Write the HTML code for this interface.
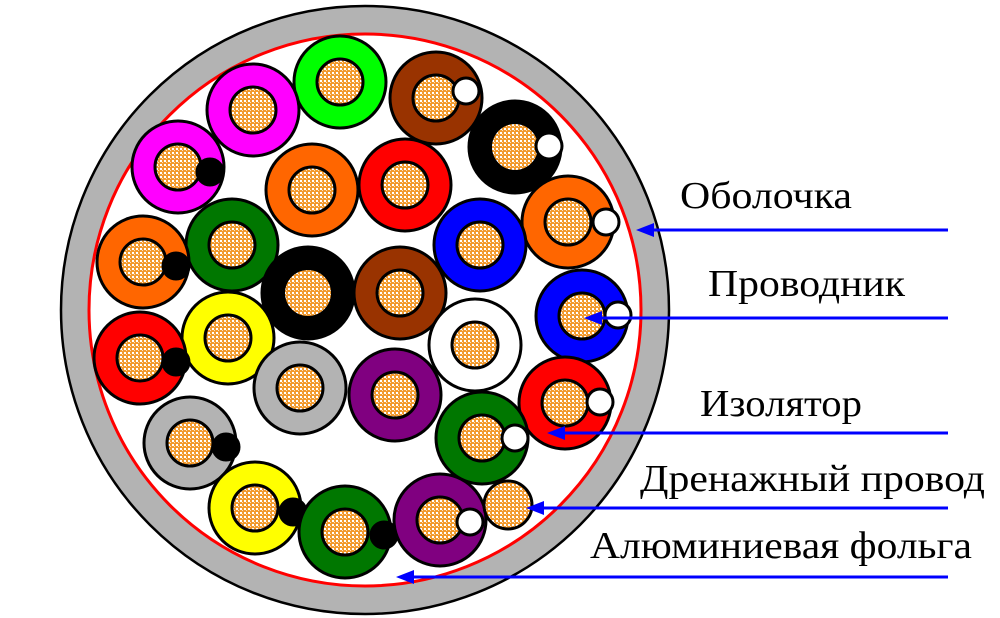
<!DOCTYPE html>
<html><head><meta charset="utf-8"><style>
html,body{margin:0;padding:0;background:#fff}
svg{display:block}
text{font-family:"Liberation Serif",serif;font-size:38px;fill:#000}
</style></head><body>
<svg width="1000" height="618" viewBox="0 0 1000 618" xmlns="http://www.w3.org/2000/svg">
<defs>
<pattern id="p" width="4" height="4" patternUnits="userSpaceOnUse">
<rect width="4" height="4" fill="#f29a2e"/>
<rect x="0" y="0" width="2" height="2" fill="#fff"/>
<rect x="2" y="2" width="1" height="1" fill="#fbe0c0"/>
</pattern>
</defs>
<circle cx="365" cy="310" r="304" fill="#b3b3b3" stroke="#000" stroke-width="2.5"/>
<circle cx="365" cy="310" r="276" fill="#fff" stroke="#f00" stroke-width="3"/>
<g stroke="#000" stroke-width="3">
<circle cx="340" cy="82" r="46" fill="#00ff00"/><circle cx="340" cy="82" r="23" fill="url(#p)"/>
<circle cx="253" cy="110" r="46" fill="#ff00ff"/><circle cx="253" cy="110" r="23" fill="url(#p)"/>
<circle cx="436" cy="98" r="46" fill="#993300"/><circle cx="436" cy="98" r="23" fill="url(#p)"/><circle cx="466" cy="91" r="13" fill="#fff"/>
<circle cx="515" cy="147" r="46" fill="#000"/><circle cx="515" cy="147" r="23" fill="url(#p)" stroke="none"/><circle cx="549" cy="146" r="13" fill="#fff"/>
<circle cx="178" cy="167" r="46" fill="#ff00ff"/><circle cx="178" cy="167" r="23" fill="url(#p)"/><circle cx="210" cy="172" r="13" fill="#000"/>
<circle cx="312" cy="190" r="46" fill="#ff6600"/><circle cx="312" cy="190" r="23" fill="url(#p)"/>
<circle cx="405" cy="185" r="46" fill="#ff0000"/><circle cx="405" cy="185" r="23" fill="url(#p)"/>
<circle cx="568" cy="222" r="46" fill="#ff6600"/><circle cx="568" cy="222" r="23" fill="url(#p)"/><circle cx="606" cy="222" r="13" fill="#fff"/>
<circle cx="480" cy="245" r="46" fill="#0000ff"/><circle cx="480" cy="245" r="23" fill="url(#p)"/>
<circle cx="232" cy="245" r="46" fill="#007700"/><circle cx="232" cy="245" r="23" fill="url(#p)"/>
<circle cx="143" cy="262" r="46" fill="#ff6600"/><circle cx="143" cy="262" r="23" fill="url(#p)"/><circle cx="176" cy="266" r="13" fill="#000"/>
<circle cx="308" cy="293" r="46" fill="#000"/><circle cx="308" cy="293" r="23" fill="url(#p)" stroke="none"/>
<circle cx="400" cy="293" r="46" fill="#993300"/><circle cx="400" cy="293" r="23" fill="url(#p)"/>
<circle cx="582" cy="316" r="46" fill="#0000ff"/><circle cx="582" cy="316" r="23" fill="url(#p)"/><circle cx="618" cy="315" r="13" fill="#fff"/>
<circle cx="475" cy="345" r="46" fill="#fff"/><circle cx="475" cy="345" r="23" fill="url(#p)"/>
<circle cx="228" cy="338" r="46" fill="#ffff00"/><circle cx="228" cy="338" r="23" fill="url(#p)"/>
<circle cx="140" cy="358" r="46" fill="#ff0000"/><circle cx="140" cy="358" r="23" fill="url(#p)"/><circle cx="176" cy="362" r="13" fill="#000"/>
<circle cx="300" cy="388" r="46" fill="#b3b3b3"/><circle cx="300" cy="388" r="23" fill="url(#p)"/>
<circle cx="395" cy="395" r="46" fill="#800080"/><circle cx="395" cy="395" r="23" fill="url(#p)"/>
<circle cx="565" cy="403" r="46" fill="#ff0000"/><circle cx="565" cy="403" r="23" fill="url(#p)"/><circle cx="600" cy="402" r="13" fill="#fff"/>
<circle cx="482" cy="438" r="46" fill="#007700"/><circle cx="482" cy="438" r="23" fill="url(#p)"/><circle cx="515" cy="438" r="13" fill="#fff"/>
<circle cx="190" cy="443" r="46" fill="#b3b3b3"/><circle cx="190" cy="443" r="23" fill="url(#p)"/><circle cx="226" cy="447" r="13" fill="#000"/>
<circle cx="255" cy="508" r="46" fill="#ffff00"/><circle cx="255" cy="508" r="23" fill="url(#p)"/><circle cx="293" cy="512" r="13" fill="#000"/>
<circle cx="345" cy="532" r="46" fill="#007700"/><circle cx="345" cy="532" r="23" fill="url(#p)"/><circle cx="384" cy="535" r="13" fill="#000"/>
<circle cx="440" cy="520" r="46" fill="#800080"/><circle cx="440" cy="520" r="23" fill="url(#p)"/><circle cx="470" cy="522" r="13" fill="#fff"/>
<circle cx="508" cy="505" r="24" fill="url(#p)"/>
</g>
<g stroke="#0000ff" stroke-width="3" fill="#0000ff">
<line x1="948" y1="230" x2="650" y2="230"/><polygon points="636,230 654,223 654,237" stroke="none"/>
<line x1="948" y1="318" x2="598" y2="318"/><polygon points="584,318 602,311 602,325" stroke="none"/>
<line x1="948" y1="433" x2="561" y2="433"/><polygon points="547,433 565,426 565,440" stroke="none"/>
<line x1="948" y1="508" x2="540" y2="508"/><polygon points="526,508 544,501 544,515" stroke="none"/>
<line x1="948" y1="577" x2="410" y2="577"/><polygon points="396,577 414,570 414,584" stroke="none"/>
</g>
<text x="680" y="208" textLength="172" lengthAdjust="spacingAndGlyphs">Оболочка</text>
<text x="708" y="296" textLength="197" lengthAdjust="spacingAndGlyphs">Проводник</text>
<text x="700" y="416" textLength="162" lengthAdjust="spacingAndGlyphs">Изолятор</text>
<text x="640" y="491" textLength="345" lengthAdjust="spacingAndGlyphs">Дренажный провод</text>
<text x="590" y="558" textLength="382" lengthAdjust="spacingAndGlyphs">Алюминиевая фольга</text>
</svg>
</body></html>
